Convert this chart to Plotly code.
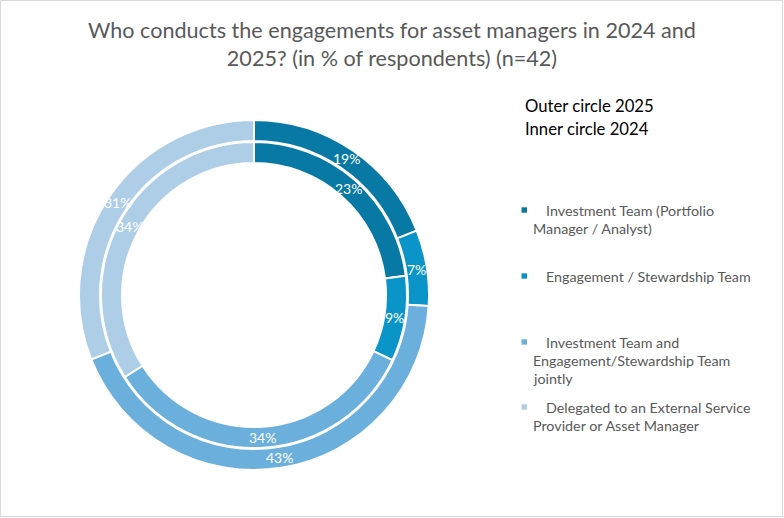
import math
import plotly.graph_objects as go

categories = [
    "Investment Team (Portfolio<br>Manager / Analyst)",
    "Engagement / Stewardship Team",
    "Investment Team and<br>Engagement/Stewardship Team<br>jointly",
    "Delegated to an External Service<br>Provider or Asset Manager",
]
values_2025 = [19, 7, 43, 31]
values_2024 = [23, 9, 34, 34]
colors = ["#0878a5", "#0b94c8", "#6bb0dc", "#aecee8"]

W, H = 784, 518
cx, cy = 254, 295
R_out, R_out_in = 175, 154
R_in, R_in_in = 153, 132

def dom(r):
    return dict(x=[(cx - r) / W, (cx + r) / W], y=[1 - (cy + r) / H, 1 - (cy - r) / H])

fig = go.Figure()
fig.add_trace(go.Pie(values=values_2025, labels=categories, hole=R_out_in / R_out,
                     domain=dom(R_out), sort=False, direction="clockwise", rotation=0,
                     marker=dict(colors=colors, line=dict(color="white", width=2)),
                     textinfo="none", hoverinfo="label+value", showlegend=False))
fig.add_trace(go.Pie(values=values_2024, labels=categories, hole=R_in_in / R_in,
                     domain=dom(R_in), sort=False, direction="clockwise", rotation=0,
                     marker=dict(colors=colors, line=dict(color="white", width=2)),
                     textinfo="none", hoverinfo="label+value", showlegend=False))

ann = []
def ring_labels(vals, r):
    tot = sum(vals)
    cum = 0
    for v in vals:
        mid = (cum + v / 2) / tot
        th = 2 * math.pi * mid
        x = cx + r * math.sin(th)
        y = cy - r * math.cos(th)
        ann.append(dict(x=x / W, y=1 - y / H, xref="paper", yref="paper",
                        xanchor="center", yanchor="middle",
                        text=f"{v}%", showarrow=False,
                        font=dict(family="Lato", size=14, color="white")))
        cum += v

ring_labels(values_2025, (R_out + R_out_in) / 2)
ring_labels(values_2024, (R_in + R_in_in) / 2)

# title
ann.append(dict(x=392 / W, y=1 - 43.5 / H, xref="paper", yref="paper", xanchor="center",
                yanchor="middle", showarrow=False,
                text="Who conducts the engagements for asset managers in 2024 and<br>2025? (in % of respondents) (n=42)",
                font=dict(family="Lato", size=21.6, color="#595959")))
# circle notes
for txt, yy in [("Outer circle 2025", 106), ("Inner circle 2024", 129)]:
    ann.append(dict(x=523 / W, y=1 - yy / H, xref="paper", yref="paper", xanchor="left",
                    yanchor="middle", showarrow=False, text=txt,
                    font=dict(family="Lato", size=16.7, color="#000000")))

# legend
legend_y = [210, 276, 342, 407]
line_h = 18
shapes = []
for cat, col, y0 in zip(categories, colors, legend_y):
    lines = cat.split("<br>")
    for k, ln in enumerate(lines):
        ann.append(dict(x=(544 if k == 0 else 531) / W, y=1 - (y0 + k * line_h) / H,
                        xref="paper", yref="paper", xanchor="left", yanchor="middle",
                        showarrow=False, text=ln,
                        font=dict(family="Lato", size=14.3, color="#595959")))
    shapes.append(dict(type="rect", xref="paper", yref="paper",
                       x0=521.5 / W, x1=527 / W, y0=1 - (y0 + 2.7) / H, y1=1 - (y0 - 2.7) / H,
                       fillcolor=col, line=dict(width=0)))

shapes.append(dict(type="rect", xref="paper", yref="paper", x0=0.5 / W, x1=(W - 1.5) / W,
                   y0=1.5 / H, y1=1 - 0.5 / H, line=dict(color="#d9d9d9", width=1),
                   fillcolor="rgba(0,0,0,0)"))

fig.update_layout(width=W, height=H, margin=dict(l=0, r=0, t=0, b=0),
                  paper_bgcolor="white", plot_bgcolor="white",
                  annotations=ann, shapes=shapes, showlegend=False)
fig.write_html("out.html")
